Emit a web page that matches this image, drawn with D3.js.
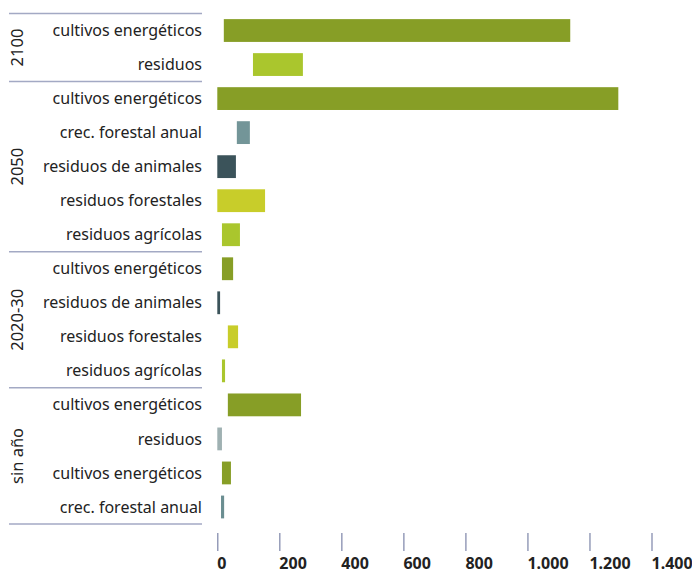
<!DOCTYPE html>
<html>
<head>
<meta charset="utf-8">
<script src="https://cdn.jsdelivr.net/npm/d3@7"></script>
<style>
  body { margin: 0; background: #fff; }
  text { font-family: "Noto Sans", sans-serif; fill: #222; }
</style>
</head>
<body>
<div id="chart"></div>
<script>
// rows from top to bottom
const groups = ["2100", "2100", "2050", "2050", "2050", "2050", "2050",
                "2020-30", "2020-30", "2020-30", "2020-30",
                "sin año", "sin año", "sin año", "sin año"];
const categories = ["cultivos energéticos", "residuos",
                    "cultivos energéticos", "crec. forestal anual", "residuos de animales", "residuos forestales", "residuos agrícolas",
                    "cultivos energéticos", "residuos de animales", "residuos forestales", "residuos agrícolas",
                    "cultivos energéticos", "residuos", "cultivos energéticos", "crec. forestal anual"];
const lowValues  = [21, 115, 0, 63, 0, 0, 15, 15, 0, 34, 15, 34, 0, 15, 12];
const highValues = [1138, 276, 1293, 105, 60, 154, 73, 51, 9, 67, 25, 270, 15, 44, 22];
const barColors = ["#879e26", "#aac62d", "#879e26", "#739598", "#3b535a", "#c8cd2a", "#aac62d",
                   "#879e26", "#3b535a", "#c8cd2a", "#aac62d",
                   "#879e26", "#9fb1b2", "#879e26", "#6b8e91"];
const groupNames = ["2100", "2050", "2020-30", "sin año"];
const tickValues = [0, 200, 400, 600, 800, 1000, 1200, 1400];

const width = 692, height = 575;
const plotTop = 13.5, plotBottom = 524;

const svg = d3.select("#chart").append("svg")
    .attr("width", width)
    .attr("height", height);

const x = d3.scaleLinear().domain([0, 1400]).range([217.3, 651.5]);
const rows = d3.range(categories.length);
const y = d3.scaleBand().domain(rows).range([plotTop, plotBottom]).paddingInner(0.33).paddingOuter(0.165);
const step = y.step();

// bars
svg.selectAll(".bar")
    .data(rows)
    .enter().append("rect")
    .attr("class", "bar")
    .attr("x", i => x(lowValues[i]))
    .attr("width", i => x(highValues[i]) - x(lowValues[i]))
    .attr("y", i => y(i))
    .attr("height", y.bandwidth())
    .attr("fill", i => barColors[i]);

// category labels
svg.selectAll(".cat")
    .data(rows)
    .enter().append("text")
    .attr("class", "cat")
    .attr("x", 202)
    .attr("y", i => y(i) + y.bandwidth() / 2)
    .attr("dy", "0.35em")
    .attr("text-anchor", "end")
    .style("font-size", "16px")
    .text(i => categories[i]);

// group separators and rotated year labels
const bounds = groupNames.map(g => {
    const idx = rows.filter(i => groups[i] === g);
    return { name: g, y0: plotTop + d3.min(idx) * step, y1: plotTop + (d3.max(idx) + 1) * step };
});

svg.selectAll(".sep")
    .data([plotTop].concat(bounds.map(b => b.y1)))
    .enter().append("line")
    .attr("x1", 9).attr("x2", 202)
    .attr("y1", d => d).attr("y2", d => d)
    .attr("stroke", "#a3a9c4")
    .attr("stroke-width", 1.5);

svg.selectAll(".grp")
    .data(bounds)
    .enter().append("text")
    .attr("transform", d => `translate(17,${(d.y0 + d.y1) / 2}) rotate(-90)`)
    .attr("dy", "0.35em")
    .attr("text-anchor", "middle")
    .style("font-size", "16.5px")
    .text(d => d.name);

// x axis
const fmt = d3.formatLocale({ decimal: ",", thousands: ".", grouping: [3], currency: ["", ""] }).format(",");
const axis = svg.append("g")
    .attr("transform", "translate(0,533)")
    .call(d3.axisBottom(x).tickValues(tickValues).tickSize(18).tickPadding(7).tickFormat(fmt));
axis.select(".domain").remove();
axis.selectAll(".tick line").attr("stroke", "#7c84a8").attr("stroke-width", 1.2);
axis.selectAll(".tick text")
    .attr("text-anchor", "start")
    .attr("x", -0.5)
    .style("font-size", "16px")
    .style("font-weight", "bold")
    .attr("fill", "#222");
</script>
</body>
</html>
